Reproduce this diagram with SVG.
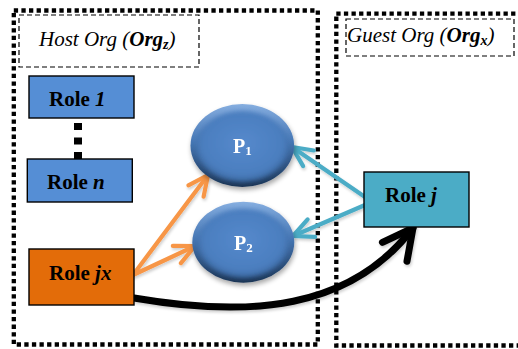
<svg xmlns="http://www.w3.org/2000/svg" width="518" height="349" viewBox="0 0 518 349">
  <defs>
    <style>
      text { font-family: 'Liberation Serif', 'Times New Roman', serif; }
      .org { fill: none; stroke: #000; stroke-width: 4.3; stroke-dasharray: 4.3 3.3; }
      .tag { fill: #fff; stroke: #000; stroke-width: 1.2; stroke-dasharray: 5 3; }
      .tagtxt { font-style: italic; font-size: 21px; fill: #000; }
      .box { stroke: #000; stroke-width: 1.4; }
      .lbl { font-weight: bold; font-size: 21px; fill: #000; }
      .ptxt { font-weight: bold; font-size: 20px; fill: #fff; }
      .cyan { fill: none; stroke: #4BACC6; stroke-width: 4.2; stroke-linecap: round; }
      .orange { fill: none; stroke: #F79646; stroke-width: 4.2; stroke-linecap: round; }
      .black { fill: none; stroke: #000; stroke-width: 7; stroke-linecap: round; }
    </style>
    <linearGradient id="rim" x1="0" y1="0" x2="0" y2="1">
      <stop offset="0" stop-color="#86aee0"/>
      <stop offset="0.45" stop-color="#4677b5"/>
      <stop offset="1" stop-color="#1b3454"/>
    </linearGradient>
    <radialGradient id="face" cx="0.5" cy="0.45" r="0.55">
      <stop offset="0" stop-color="#5589cc"/>
      <stop offset="0.8" stop-color="#4b7ebf"/>
      <stop offset="1" stop-color="#3a679f"/>
    </radialGradient>
    <filter id="soft" x="-20%" y="-20%" width="140%" height="140%">
      <feGaussianBlur stdDeviation="2.2"/>
    </filter>
    <filter id="shadow" x="-20%" y="-20%" width="150%" height="150%">
      <feGaussianBlur in="SourceAlpha" stdDeviation="2.5"/>
      <feOffset dx="1" dy="3" result="b"/>
      <feComponentTransfer><feFuncA type="linear" slope="0.35"/></feComponentTransfer>
      <feMerge><feMergeNode/><feMergeNode in="SourceGraphic"/></feMerge>
    </filter>
    <filter id="lineShadow" x="-10%" y="-10%" width="130%" height="130%">
      <feGaussianBlur in="SourceAlpha" stdDeviation="1.5"/>
      <feOffset dx="1" dy="2"/>
      <feComponentTransfer><feFuncA type="linear" slope="0.2"/></feComponentTransfer>
      <feMerge><feMergeNode/><feMergeNode in="SourceGraphic"/></feMerge>
    </filter>
    <marker id="headCyan" markerUnits="userSpaceOnUse" viewBox="-24 -13 28 26" refX="0" refY="0" markerWidth="28" markerHeight="26" orient="auto" overflow="visible">
      <path d="M-20,-9.5 L0,0 L-20,9.5" fill="none" stroke="#4BACC6" stroke-width="4.2" stroke-linecap="round" stroke-linejoin="round"/>
    </marker>
    <marker id="headOrange" markerUnits="userSpaceOnUse" viewBox="-24 -13 28 26" refX="0" refY="0" markerWidth="28" markerHeight="26" orient="auto" overflow="visible">
      <path d="M-20,-9.5 L0,0 L-20,9.5" fill="none" stroke="#F79646" stroke-width="4.2" stroke-linecap="round" stroke-linejoin="round"/>
    </marker>
    <marker id="headBlack" markerUnits="userSpaceOnUse" viewBox="-36 -20 42 40" refX="0" refY="0" markerWidth="42" markerHeight="40" orient="auto" overflow="visible">
      <path d="M-30,-15.5 L0,0 L-30,15.5" fill="none" stroke="#000" stroke-width="7" stroke-linecap="round" stroke-linejoin="round"/>
    </marker>
  </defs>

  <rect width="518" height="349" fill="#fff"/>

  <!-- organisation boundaries -->
  <g id="host-org">
    <rect class="org" x="13.8" y="10.5" width="304" height="334"/>
    <rect class="tag" x="19" y="15" width="180" height="52"/>
    <text class="tagtxt" x="39" y="46">Host Org (<tspan font-weight="bold">Org</tspan><tspan font-weight="bold" font-size="14" dy="3">z</tspan><tspan dy="-3">)</tspan></text>
  </g>
  <g id="guest-org">
    <rect class="org" x="336.3" y="13.7" width="200" height="331.8"/>
    <rect class="tag" x="346" y="19" width="168" height="37"/>
    <text class="tagtxt" x="347" y="42">Guest Org (<tspan font-weight="bold">Org</tspan><tspan font-weight="bold" font-size="14" dy="3">x</tspan><tspan dy="-3">)</tspan></text>
  </g>

  <!-- connectors -->
  <g id="connectors">
    <line x1="78" y1="123" x2="78" y2="159" stroke="#000" stroke-width="8" stroke-dasharray="7 7.5"/>
    <g filter="url(#lineShadow)">
      <line class="cyan" x1="365" y1="197" x2="292" y2="147" marker-end="url(#headCyan)"/>
      <line class="cyan" x1="365" y1="205" x2="293" y2="236" marker-end="url(#headCyan)"/>
      <line class="orange" x1="133" y1="275" x2="208" y2="175" marker-end="url(#headOrange)"/>
      <line class="orange" x1="133" y1="275" x2="195" y2="246" marker-end="url(#headOrange)"/>
      <path class="black" d="M134,298 C250,318 350,310 413,228" marker-end="url(#headBlack)"/>
    </g>
  </g>

  <!-- roles -->
  <g id="role-1">
    <rect class="box" x="29" y="76" width="105" height="42" fill="#558ED5"/>
    <text class="lbl" x="49" y="106">Role <tspan font-style="italic">1</tspan></text>
  </g>
  <g id="role-n">
    <rect class="box" x="27.3" y="159" width="105" height="43" fill="#558ED5"/>
    <text class="lbl" x="47" y="189">Role <tspan font-style="italic">n</tspan></text>
  </g>
  <g id="role-jx">
    <rect class="box" x="29" y="249" width="105" height="56" fill="#E36C09"/>
    <text class="lbl" x="49" y="280">Role <tspan font-style="italic">jx</tspan></text>
  </g>
  <g id="role-j">
    <rect class="box" x="364" y="172" width="105" height="55" fill="#4BACC6"/>
    <text class="lbl" x="385" y="202">Role <tspan font-style="italic">j</tspan></text>
  </g>

  <!-- permissions -->
  <g id="p1" filter="url(#shadow)">
    <ellipse cx="242.3" cy="145.5" rx="51.8" ry="41.5" fill="url(#rim)"/>
    <ellipse cx="242.3" cy="146.5" rx="46" ry="35.5" fill="url(#face)" filter="url(#soft)"/>
    <text class="ptxt" x="233" y="153">P<tspan font-size="13" dy="2">1</tspan></text>
  </g>
  <g id="p2" filter="url(#shadow)">
    <ellipse cx="243.3" cy="242.2" rx="51" ry="40.5" fill="url(#rim)"/>
    <ellipse cx="243.3" cy="243.2" rx="45.2" ry="34.5" fill="url(#face)" filter="url(#soft)"/>
    <text class="ptxt" x="234" y="249.5">P<tspan font-size="13" dy="2">2</tspan></text>
  </g>
</svg>
